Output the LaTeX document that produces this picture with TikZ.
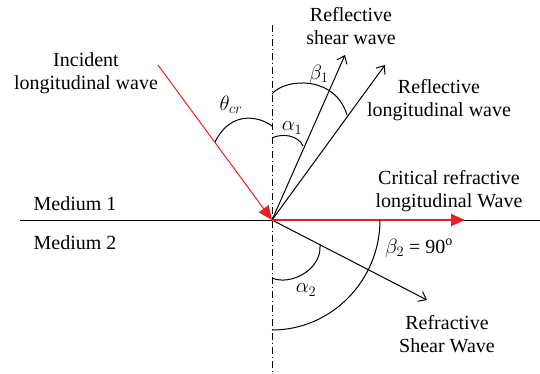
\documentclass[tikz,border=0pt]{standalone}
\usepackage{fontspec}
\setmainfont{Liberation Serif}
\usetikzlibrary{arrows.meta}
\definecolor{wred}{RGB}{237,28,36}
\newcommand{\figfont}{\fontsize{20}{23}\selectfont}
\tikzset{
  lbl/.style={align=center, inner sep=0pt, font=\figfont},
  ray/.style={black, line width=1pt, -{Straight Barb[length=7pt,width=11pt,line width=1pt]}},
  redray/.style={wred, line width=1pt, -{Triangle[length=14pt,width=12pt]}},
  critray/.style={wred, line width=1.8pt, -{Triangle[length=14pt,width=12pt]}},
  axisline/.style={black, line width=0.9pt, dash pattern=on 7pt off 3pt on 1pt off 3pt},
  surface/.style={black, line width=1pt},
  anglearc/.style={black, line width=1pt}
}
\begin{document}
\begin{tikzpicture}[x=1pt,y=-1pt]
\useasboundingbox (0,0) rectangle (540,373);
% key points
\coordinate (O) at (272,220);
\coordinate (vtop) at (272,25);
\coordinate (vbot) at (272,373);
\coordinate (hleft) at (20,220);
\coordinate (hright) at (540,220);
\coordinate (inc) at (158,65);
\coordinate (rsh) at (345,55);
\coordinate (rlo) at (385,65);
\coordinate (crit) at (465,220);
\coordinate (rfs) at (427,300);
% normal and surface
\draw[axisline] (vtop) -- (vbot);
\draw[surface] (hleft) -- (hright);
% rays
\draw[ray] (O) -- (rsh);
\draw[ray] (O) -- (rlo);
\draw[ray] (O) -- (rfs);
\draw[critray] (O) -- (crit);
\draw[redray] (inc) -- (O);
% angle arcs
\coordinate (t1) at (215,142);
\coordinate (t2) at (272,126);
\draw[anglearc] (t1) .. controls (232,108) and (262,118) .. (t2);
\coordinate (b1s) at (272,94);
\coordinate (b1e) at (347,115);
\draw[anglearc] (b1s) .. controls (285,78) and (335,75) .. (b1e);
\coordinate (a1s) at (272,138);
\coordinate (a1e) at (303,146);
\draw[anglearc] (a1s) .. controls (282,133) and (298,135) .. (a1e);
\coordinate (a2s) at (272,278);
\coordinate (a2e) at (320,245);
\draw[anglearc] (a2s) .. controls (290,286) and (322,270) .. (a2e);
\coordinate (b2s) at (380,220);
\coordinate (b2e) at (272,330);
\draw[anglearc] (b2s) .. controls (380,280) and (332,330) .. (b2e);
% labels
\node[lbl] (lInc) at (86,73) {Incident\\longitudinal wave};
\node[lbl] (lRsh) at (351,26) {Reflective\\shear wave};
\node[lbl] (lRlo) at (439,100) {Reflective\\longitudinal wave};
\node[lbl] (lCrit) at (449,191) {Critical refractive\\longitudinal Wave};
\node[lbl] (lM1) at (75,204) {Medium 1};
\node[lbl] (lM2) at (75,243) {Medium 2};
\node[lbl] (lRfs) at (447,334) {Refractive\\Shear Wave};
\node[lbl] (lTh) at (231,105) {$\theta_{cr}$};
\node[lbl] (lB1) at (319,74) {$\beta_1$};
\node[lbl] (lA1) at (292,128) {$\alpha_1$};
\node[lbl] (lA2) at (306,290) {$\alpha_2$};
\node[lbl] (lB2) at (419,248) {$\beta_2$ = 90\textsuperscript{o}};
\end{tikzpicture}
\end{document}
